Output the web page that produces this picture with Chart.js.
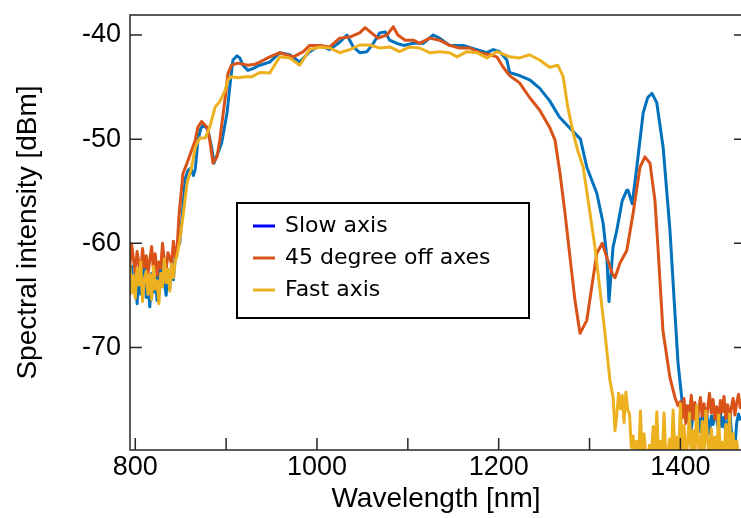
<!DOCTYPE html>
<html>
<head>
<meta charset="utf-8">
<script src="https://cdn.jsdelivr.net/npm/chart.js@4.4.1/dist/chart.umd.min.js"></script>
<style>
  html, body { margin: 0; padding: 0; overflow: hidden; background: #fff; }
  canvas { display: block; }
</style>
</head>
<body>
<canvas id="spectrum" width="750" height="518"></canvas>
<script>
// [wavelength nm, intensity dBm]
var slowAxis = [
  [794,-63.0],[796,-62.2],[798,-64.5],[800,-63.1],[802,-65.8],[804,-62.6],[806,-64.9],[808,-63.4],
  [810,-61.8],[812,-65.2],[814,-63.9],[816,-66.1],[818,-62.9],[820,-64.7],[822,-63.2],[824,-65.5],
  [826,-62.4],[828,-64.1],[830,-61.6],[832,-63.8],[834,-65.0],[836,-62.7],[838,-64.3],[840,-61.9],
  [842,-63.5],[844,-61.2],[846,-60.4],
  [849,-60.0],[852.5,-56.5],[855,-53.8],[858,-53.0],[861,-52.8],[864,-53.5],[866,-52.9],[869,-50.1],
  [872,-49.0],[875,-48.6],[880,-49.1],[884,-50.8],[886.6,-52.3],[891,-51.3],[895,-50.4],[901,-47.5],
  [904,-45.0],[907.5,-42.4],[912,-42.0],[915,-42.2],[918.5,-42.9],[924,-43.4],[930,-43.2],[937,-42.9],
  [948,-42.6],[959,-41.7],[970,-41.9],[981,-42.6],[992,-41.6],[1003,-41.0],[1014,-41.4],[1025,-40.7],
  [1033,-40.0],[1040,-41.15],[1047,-41.7],[1055,-41.6],[1062,-40.8],[1069,-39.8],[1075,-39.7],[1080,-40.5],
  [1088,-40.8],[1095,-41.0],[1106,-40.8],[1117,-40.8],[1128,-40.0],[1135,-40.3],[1146,-41.0],[1161,-41.0],
  [1176,-41.4],[1187,-41.7],[1194,-41.4],[1201,-41.6],[1209,-42.4],[1212,-43.6],[1223,-43.9],[1234,-44.3],
  [1245,-45.1],[1256,-46.3],[1267,-47.9],[1278,-48.9],[1290,-50.0],[1297,-52.7],[1308,-55.2],[1315,-58.1],
  [1319,-61.3],[1321.4,-65.6],[1325.8,-60.4],[1330,-58.75],[1336,-55.9],[1341,-54.9],[1342.3,-54.9],
  [1347,-56.2],[1352,-52.7],[1359,-47.5],[1364,-46.0],[1368.7,-45.6],[1374,-46.5],[1381,-50.8],
  [1388.5,-58.75],[1394,-66.7],[1397.4,-71.5],[1401.8,-75.1],
  [1404,-76.2],[1406,-75.6],[1408,-77.1],[1410,-76.0],[1412,-77.8],[1414,-76.5],[1416,-75.4],[1418,-77.3],
  [1420,-76.8],[1422,-78.1],[1424,-76.4],[1426,-77.5],[1428,-75.9],[1430,-77.0],[1432,-78.3],[1434,-76.6],
  [1436,-77.4],[1438,-75.8],[1440,-76.9],[1442,-78.0],[1444,-76.3],[1446,-77.6],[1448,-76.7],[1450,-78.4],
  [1452,-77.1],[1454,-76.0],[1456,-77.9],[1458,-79.3],[1460,-79.6],[1462,-77.2],[1464,-76.4],[1466,-77.0]
];

var offAxes45 = [
  [794,-62.2],[796,-60.1],[798,-61.5],[800,-62.8],[802,-60.8],[804,-61.9],[806,-63.0],[808,-60.5],
  [810,-62.3],[812,-61.2],[814,-62.9],[816,-61.6],[818,-60.3],[820,-62.5],[822,-61.0],[824,-63.1],
  [826,-61.8],[828,-62.4],[830,-60.0],[832,-61.7],[834,-62.6],[836,-60.9],[838,-61.4],[840,-62.0],
  [842,-59.8],[844,-61.3],[846,-60.6],
  [848,-57.5],[852.5,-53.3],[857,-52.3],[862,-51.1],[866,-50.1],[869,-48.85],[873,-48.3],[879,-48.85],
  [882,-50.1],[885.5,-52.3],[890,-51.7],[893,-50.1],[899,-46.0],[902,-43.7],[906,-42.9],[913,-42.7],
  [924,-42.9],[932,-42.8],[937,-42.6],[948,-42.1],[959,-41.7],[974,-42.1],[985,-41.6],[992,-41.0],
  [1003,-41.0],[1014,-41.15],[1025,-40.3],[1036,-40.2],[1047,-39.8],[1053,-39.3],[1060,-39.8],[1067,-40.3],
  [1077,-40.0],[1084,-39.2],[1089,-40.0],[1097,-40.5],[1106,-40.5],[1113,-40.8],[1124,-40.3],[1135,-40.5],
  [1146,-41.0],[1157,-41.25],[1168,-41.25],[1179,-41.7],[1190,-41.9],[1198,-42.1],[1205,-43.1],[1212,-43.9],
  [1223,-44.6],[1234,-46.0],[1245,-47.2],[1256,-48.85],[1262,-50.1],[1267.5,-53.3],[1273,-57.1],
  [1278.5,-61.35],[1284,-65.5],[1289.5,-68.65],[1297,-67.4],[1303,-63.85],[1308,-60.96],[1314,-60.0],
  [1319,-61.35],[1325,-62.9],[1328,-63.3],[1333.5,-61.9],[1341,-60.7],[1348,-57.1],[1355.5,-52.7],
  [1361,-51.7],[1366.5,-52.3],[1372,-55.9],[1375.3,-60.4],[1380.8,-68.4],[1388.5,-72.9],[1394,-74.8],
  [1397.4,-75.6],
  [1400,-75.2],[1402,-76.8],[1404,-74.9],[1406,-77.3],[1408,-75.6],[1410,-76.4],[1412,-74.6],[1414,-76.9],
  [1416,-75.3],[1418,-77.6],[1420,-76.1],[1422,-74.8],[1424,-76.6],[1426,-75.4],[1428,-77.1],[1430,-75.9],
  [1432,-74.4],[1434,-76.3],[1436,-75.0],[1438,-76.9],[1440,-75.7],[1442,-77.4],[1444,-75.1],[1446,-76.2],
  [1448,-74.7],[1450,-76.8],[1452,-75.5],[1454,-77.0],[1456,-75.8],[1458,-74.9],[1460,-76.5],[1462,-75.3],
  [1464,-74.5],[1466,-75.9]
];

var fastAxis = [
  [794,-62.0],[796,-64.8],[798,-63.1],[800,-65.3],[802,-62.4],[804,-64.0],[806,-61.8],[808,-65.6],
  [810,-63.5],[812,-62.7],[814,-64.9],[816,-63.0],[818,-65.4],[820,-62.2],[822,-64.4],[824,-63.6],
  [826,-65.8],[828,-62.9],[830,-64.2],[832,-61.5],[834,-63.8],[836,-62.5],[838,-64.6],[840,-62.0],
  [842,-63.3],[844,-61.7],[846,-61.2],
  [849,-59.7],[853,-57.1],[857,-54.2],[862,-52.7],[866,-50.8],[871,-49.9],[877,-49.9],[882,-48.85],
  [888,-46.9],[893,-46.4],[899,-45.3],[902,-44.3],[906,-44.0],[913,-44.1],[921,-44.0],[928.5,-44.0],
  [937,-43.6],[948,-43.65],[959,-42.1],[970,-42.2],[981,-42.9],[992,-41.4],[1003,-41.15],[1014,-41.25],
  [1025,-41.7],[1036,-41.4],[1047,-40.96],[1058,-40.96],[1069,-41.25],[1080,-41.15],[1091,-41.6],
  [1102,-41.15],[1113,-41.25],[1124,-41.7],[1135,-41.6],[1146,-41.7],[1154,-42.1],[1165,-41.6],
  [1176,-41.7],[1187,-42.2],[1198,-41.6],[1201,-41.7],[1212,-42.1],[1223,-42.2],[1234,-41.9],[1245,-42.4],
  [1256,-43.1],[1265,-42.9],[1271,-44.0],[1276,-46.9],[1282,-49.4],[1287,-51.1],[1293,-52.7],[1298,-55.6],
  [1306,-60.4],[1311.5,-64.5],[1317,-68.65],[1322.5,-73.2],
  [1326,-74.8],[1328,-78.0],[1330,-76.5],[1332,-74.4],[1334,-75.9],[1336,-74.6],[1338,-77.2],[1340,-74.3],
  [1342,-76.0],[1344,-76.4],[1346,-79.6],[1348,-78.5],[1350,-80.5],[1352,-79.0],[1354,-80.5],[1356,-76.1],
  [1358,-80.5],[1360,-78.3],[1362,-80.5],[1364,-80.5],[1366,-79.4],[1368,-80.5],[1370,-77.6],[1372,-80.5],
  [1374,-76.2],[1376,-80.5],[1378,-79.0],[1380,-80.5],[1382,-76.3],[1384,-80.5],[1386,-80.5],[1388,-78.8],
  [1390,-80.5],[1392,-76.0],[1394,-80.5],[1396,-78.6],[1398,-80.5],[1400,-75.4],[1402,-80.5],[1404,-77.5],
  [1406,-80.5],[1408,-79.2],[1410,-76.3],[1412,-80.5],[1414,-78.0],[1416,-80.5],[1418,-75.6],[1420,-79.5],
  [1422,-80.5],[1424,-77.1],[1426,-80.5],[1428,-76.1],[1430,-79.0],[1432,-80.5],[1434,-77.8],[1436,-80.5],
  [1438,-78.6],[1440,-80.5],[1442,-76.5],[1444,-80.5],[1446,-79.1],[1448,-80.5],[1450,-77.4],[1452,-80.5],
  [1454,-76.4],[1456,-80.5],[1458,-78.3],[1460,-80.5],[1462,-79.0],[1464,-80.5],[1466,-80.5]
];

var seriesLabels = ["Slow axis", "45 degree off axes", "Fast axis"];
var lineColors = ["#0072BD", "#D95319", "#EDB120"];
var legendColors = ["#0000FF", "#D95319", "#EDB120"];

// box, inward ticks and the legend
var frame = {
  id: "frame",
  afterDraw: function (chart) {
    var ctx = chart.ctx, a = chart.chartArea;
    var xs = chart.scales.x, ys = chart.scales.y;
    ctx.save();
    ctx.strokeStyle = "#262626";
    ctx.lineWidth = 1.5;
    ctx.strokeRect(a.left, a.top, a.right - a.left, a.bottom - a.top);
    ctx.beginPath();
    xs.ticks.forEach(function (t) {
      var px = xs.getPixelForValue(t.value);
      ctx.moveTo(px, a.bottom);
      ctx.lineTo(px, a.bottom - 12);
    });
    ys.ticks.forEach(function (t) {
      var py = ys.getPixelForValue(t.value);
      ctx.moveTo(a.left, py);
      ctx.lineTo(a.left + 12, py);
      ctx.moveTo(a.right, py);
      ctx.lineTo(a.right - 8, py);
    });
    ctx.stroke();

    var bx = a.left + 107, by = a.top + 188;
    ctx.fillStyle = "#fff";
    ctx.fillRect(bx, by, 292, 115);
    ctx.strokeStyle = "#000";
    ctx.lineWidth = 2;
    ctx.strokeRect(bx, by, 292, 115);
    ctx.font = "22px 'DejaVu Sans'";
    ctx.textBaseline = "middle";
    ctx.lineWidth = 3;
    chart.data.datasets.forEach(function (ds, i) {
      var ry = by + 23 + i * 32;
      ctx.strokeStyle = legendColors[i];
      ctx.beginPath();
      ctx.moveTo(bx + 16, ry);
      ctx.lineTo(bx + 38, ry);
      ctx.stroke();
      ctx.fillStyle = "#000";
      ctx.fillText(ds.label, bx + 48, ry);
    });
    ctx.restore();
  }
};

new Chart("spectrum", {
  type: "line",
  data: {
    datasets: [
      { label: seriesLabels[0], data: slowAxis, borderColor: lineColors[0], order: 3 },
      { label: seriesLabels[1], data: offAxes45, borderColor: lineColors[1], order: 2 },
      { label: seriesLabels[2], data: fastAxis, borderColor: lineColors[2], order: 1 }
    ]
  },
  plugins: [frame],
  options: {
    responsive: false,
    animation: false,
    layout: { padding: { top: 15, right: 8, left: 0, bottom: 0 } },
    elements: {
      point: { radius: 0 },
      line: { borderWidth: 3, tension: 0, borderJoinStyle: "round" }
    },
    plugins: { legend: { display: false }, tooltip: { enabled: false } },
    scales: {
      x: {
        type: "linear",
        min: 794.2,
        max: 1467.8,
        afterFit: function (s) { s.height = 68; s.paddingLeft = 0; s.paddingRight = 0; },
        grid: { display: false, drawTicks: false },
        border: { display: false },
        ticks: {
          stepSize: 100,
          autoSkip: false,
          includeBounds: false,
          maxRotation: 0,
          padding: 1,
          color: "#000",
          font: { family: "'Liberation Sans'", size: 27 },
          callback: function (v) { return v % 200 === 0 ? String(v) : ""; }
        },
        title: {
          display: true,
          text: "Wavelength [nm]",
          color: "#000",
          font: { family: "'Liberation Sans'", size: 28 },
          padding: { top: 0, bottom: 2 }
        }
      },
      y: {
        min: -79.85,
        max: -38.08,
        afterFit: function (s) { s.width = 130; s.paddingTop = 0; s.paddingBottom = 0; },
        grid: { display: false, drawTicks: false },
        border: { display: false },
        ticks: {
          stepSize: 10,
          includeBounds: false,
          padding: 9,
          color: "#000",
          font: { family: "'Liberation Sans'", size: 27 }
        },
        title: {
          display: true,
          text: "Spectral intensity [dBm]",
          color: "#000",
          font: { family: "'Liberation Sans'", size: 28 },
          padding: { top: 11, bottom: 0 }
        }
      }
    }
  }
});
</script>
</body>
</html>
